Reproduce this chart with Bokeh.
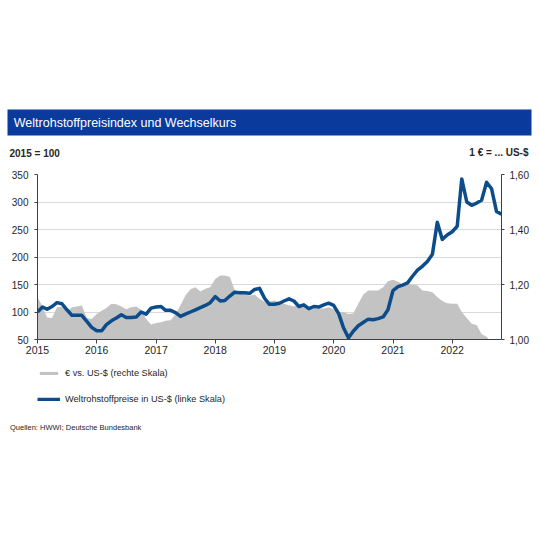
import pandas as pd
from bokeh.plotting import figure
from bokeh.models import (Range1d, LinearAxis, FixedTicker, CustomJSTickFormatter,
                          Legend, LegendItem)
from bokeh.layouts import column
from bokeh.embed import file_html
from bokeh.resources import INLINE
from bokeh.core.properties import value

FONT = "Liberation Sans"

# ---------------- data ----------------
title_text = "Weltrohstoffpreisindex und Wechselkurs"
left_unit = "2015 = 100"
right_unit = "1 € = ... US-$"
source_text = "Quellen: HWWI; Deutsche Bundesbank"
label_eur = "€ vs. US-$ (rechte Skala)"
label_com = "Weltrohstoffpreise in US-$ (linke Skala)"

years = [2015, 2016, 2017, 2018, 2019, 2020, 2021, 2022]
year_labels = ["2015", "2016", "2017", "2018", "2019", "2020", "2021", "2022"]
left_ticks = [50, 100, 150, 200, 250, 300, 350]
right_ticks = [1.0, 1.2, 1.4, 1.6]

months = pd.date_range("2015-01-01", "2022-11-01", freq="MS")

commodity = [
    100, 109, 105, 110, 117, 115, 104, 94, 94, 94, 83, 72,      # 2015
    66, 66, 77, 84, 89, 95, 90, 90, 91, 100, 96, 107,           # 2016
    109, 110, 103, 103, 99, 92, 96, 100, 104, 108, 112, 117,    # 2017
    128, 120, 121, 129, 136, 135, 135, 134, 141, 143, 125, 114, # 2018
    114, 116, 120, 124, 120, 110, 113, 106, 110, 109, 113, 116, # 2019
    112, 97, 72, 53, 65, 75, 81, 87, 86, 88, 91, 104,           # 2020
    139, 146, 149, 153, 165, 176, 183, 192, 205, 263, 232, 240, # 2021
    246, 256, 342, 300, 294, 298, 303, 336, 324, 283, 278,      # 2022
]

eur_usd = [
    1.154, 1.12, 1.08, 1.078, 1.117, 1.12, 1.10, 1.117, 1.12, 1.124, 1.078, 1.075,
    1.093, 1.105, 1.115, 1.13, 1.128, 1.12, 1.11, 1.117, 1.12, 1.108, 1.075, 1.055,
    1.06, 1.063, 1.068, 1.07, 1.093, 1.125, 1.16, 1.183, 1.19, 1.175, 1.185, 1.19,
    1.22, 1.233, 1.233, 1.227, 1.18, 1.168, 1.168, 1.16, 1.163, 1.148, 1.138, 1.138,
    1.142, 1.135, 1.13, 1.125, 1.12, 1.128, 1.122, 1.113, 1.112, 1.112, 1.113, 1.117,
    1.11, 1.10, 1.10, 1.093, 1.095, 1.13, 1.163, 1.178, 1.178, 1.178, 1.19, 1.212,
    1.217, 1.21, 1.2, 1.2, 1.2, 1.196, 1.178, 1.176, 1.172, 1.155, 1.14, 1.132,
    1.13, 1.13, 1.1, 1.078, 1.057, 1.053, 1.02, 1.01, 0.99, 0.98,
]

BLUE_BAR = "#0a3a9c"
LINE_BLUE = "#0d4c8b"
AREA_GREY = "#c3c3c3"
TXT = "#262626"
AXIS = "#404040"
GRID = "#d9d9d9"

W = 536


def blank(height):
    f = figure(width=W, height=height, x_range=Range1d(0, W), y_range=Range1d(height, 0),
               x_axis_type=None, y_axis_type=None, toolbar_location=None,
               output_backend="svg", min_border=0, outline_line_color=None)
    f.grid.visible = False
    return f


# ---------------- header ----------------
H1 = 160
top = blank(H1)
top.quad(left=7, right=531, top=109, bottom=135, fill_color=BLUE_BAR, line_color=None)
top.text(x=[13.3], y=[122.5], text=[title_text], text_color="white",
         text_font=value(FONT), text_font_size="12.5px",
         text_baseline="middle", text_align="left")
top.text(x=[9], y=[152.5], text=[left_unit], text_color=TXT,
         text_font=value(FONT), text_font_size="10px", text_font_style="bold",
         text_baseline="middle", text_align="left")
top.text(x=[528], y=[151.5], text=[right_unit], text_color=TXT,
         text_font=value(FONT), text_font_size="10px", text_font_style="bold",
         text_baseline="middle", text_align="right")

# ---------------- main chart ----------------
H2 = 200
p = figure(width=W, height=H2, x_axis_type="datetime",
           x_range=Range1d(months[0], months[-1]), y_range=Range1d(50, 350),
           toolbar_location=None, output_backend="svg",
           min_border_left=37, min_border_right=W - 501, min_border_top=14,
           min_border_bottom=21, outline_line_color=None)
p.extra_y_ranges = {"eur": Range1d(1.0, 1.6)}

area = p.varea(x=months[:len(eur_usd)], y1=1.0, y2=eur_usd, y_range_name="eur",
               fill_color=AREA_GREY)
line = p.line(x=months, y=commodity, line_color=LINE_BLUE, line_width=3.5,
              line_join="round")

year_ms = [int(pd.Timestamp(f"{y}-01-01").value // 10**6) for y in years]
xa = p.xaxis[0]
xa.ticker = FixedTicker(ticks=year_ms)
xa.major_label_overrides = {t: lab for t, lab in zip(year_ms, year_labels)}
xa.major_tick_in = 0
xa.major_tick_out = 4
xa.minor_tick_line_color = None
xa.major_label_standoff = 2
xa.axis_line_color = AXIS
xa.major_tick_line_color = AXIS
xa.major_label_text_font = FONT
xa.major_label_text_font_size = "10.5px"
xa.major_label_text_color = TXT

ya = p.yaxis[0]
ya.ticker = FixedTicker(ticks=left_ticks)
ya.major_tick_in = 0
ya.major_tick_out = 3
ya.minor_tick_line_color = None
ya.major_label_standoff = 6
ya.axis_line_color = AXIS
ya.major_tick_line_color = AXIS
ya.major_label_text_font = FONT
ya.major_label_text_font_size = "10px"
ya.major_label_text_color = TXT

ra = LinearAxis(y_range_name="eur", ticker=FixedTicker(ticks=right_ticks),
                formatter=CustomJSTickFormatter(code="return tick.toFixed(2).replace('.', ',');"))
ra.major_tick_in = 0
ra.major_tick_out = 3
ra.minor_tick_line_color = None
ra.major_label_standoff = 5
ra.axis_line_color = AXIS
ra.major_tick_line_color = AXIS
ra.major_label_text_font = FONT
ra.major_label_text_font_size = "10px"
ra.major_label_text_color = TXT
p.add_layout(ra, "right")

p.xgrid.grid_line_color = None
p.ygrid.grid_line_color = GRID
p.ygrid.grid_line_width = 1

# ---------------- legend + source ----------------
# the legend keys mirror the chart's two series (same data, same styles); they
# fall outside this panel's pixel range, so only their legend keys are drawn
H3 = 85
bot = blank(H3)
key_area = bot.varea(x=months[:len(eur_usd)], y1=1.0, y2=eur_usd, fill_color=AREA_GREY)
key_line = bot.line(x=months, y=commodity, line_color=LINE_BLUE, line_width=3.5)
legend = Legend(items=[LegendItem(label=label_eur, renderers=[key_area]),
                       LegendItem(label=label_com, renderers=[key_line])],
                location=(37, H3 - 52), orientation="vertical",
                glyph_width=23, glyph_height=4, label_height=26, spacing=0,
                label_standoff=5, padding=0, margin=0,
                border_line_color=None, background_fill_alpha=0,
                label_text_font=FONT, label_text_font_size="9.2px",
                label_text_color=TXT)
bot.add_layout(legend, "center")
bot.text(x=[9.5], y=[67], text=[source_text], text_color=TXT,
         text_font=value(FONT), text_font_size="7.5px",
         text_baseline="middle", text_align="left")

for f in (top, p, bot):
    if "frame_align" in f.properties():
        f.frame_align = False

layout = column(top, p, bot, spacing=0)
open("out.html", "w").write(file_html(layout, INLINE))
